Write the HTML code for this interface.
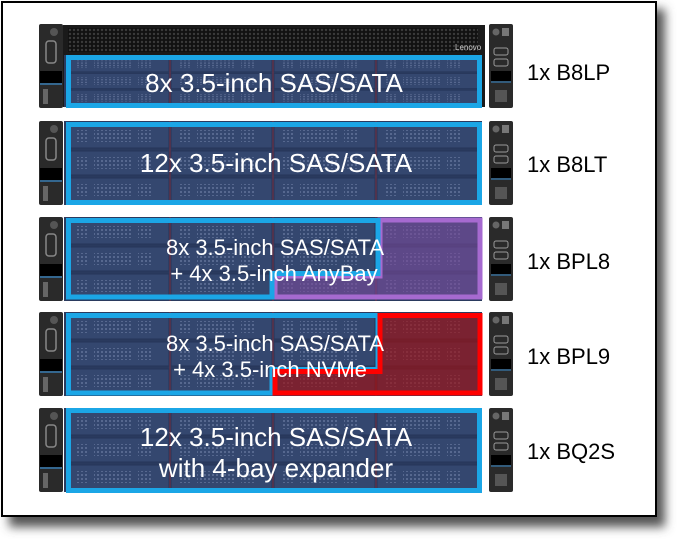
<!DOCTYPE html>
<html><head><meta charset="utf-8"><style>
body{margin:0;background:#fff;}
svg{display:block}
</style></head><body>
<svg width="686" height="547" viewBox="0 0 686 547" xmlns="http://www.w3.org/2000/svg">
<defs>
<filter id="sh" x="-5%" y="-5%" width="115%" height="115%"><feGaussianBlur stdDeviation="5"/></filter>
<pattern id="dots" width="4" height="4" patternUnits="userSpaceOnUse"><circle cx="2" cy="2" r="0.9" fill="#6f80a6"/></pattern>
<pattern id="vent" width="4" height="4" patternUnits="userSpaceOnUse"><rect width="4" height="4" fill="#111"/><circle cx="2" cy="2" r="1.2" fill="#3a3a3a"/></pattern>
<g id="drive">
<rect x="0" y="0" width="101" height="24" fill="#34476f" stroke="#26365a" stroke-width="1"/>
<rect x="8" y="6" width="12" height="12" fill="url(#dots)"/>
<rect x="26" y="6" width="38" height="12" fill="url(#dots)"/>
<rect x="70" y="6" width="14" height="12" fill="url(#dots)"/>
</g>
<g id="lear">
<rect x="0" y="0" width="24" height="84" rx="2" fill="#2a2a2a"/>
<circle cx="15" cy="8" r="4" fill="#555"/>
<rect x="7" y="17" width="10" height="22" rx="3" fill="none" stroke="#888" stroke-width="1.5"/>
<rect x="1" y="47" width="22" height="12" fill="#000"/>
<line x1="1" y1="60" x2="23" y2="60" stroke="#3a8ccc" stroke-width="1.2"/>
<rect x="4" y="65" width="5" height="15" fill="#666"/>
</g>
<g id="rear">
<rect x="0" y="0" width="24" height="84" rx="2" fill="#2a2a2a"/>
<circle cx="7" cy="8" r="3.5" fill="#666"/><rect x="13" y="4" width="7" height="8" fill="#777"/>
<rect x="5" y="24" width="14" height="7" rx="2" fill="none" stroke="#999"/>
<rect x="5" y="35" width="14" height="7" rx="2" fill="none" stroke="#999"/>
<rect x="2" y="47" width="20" height="10" fill="#000"/>
<line x1="2" y1="58" x2="22" y2="58" stroke="#3a8ccc"/>
<rect x="6" y="66" width="12" height="12" fill="#555"/>
</g>
<g id="drives3">
<rect x="0" y="0" width="418" height="84" fill="#2a3a5e"/>
<use href="#drive" x="4" y="3"/><use href="#drive" x="107" y="3"/><use href="#drive" x="210" y="3"/><use href="#drive" x="313" y="3"/>
<use href="#drive" x="4" y="30"/><use href="#drive" x="107" y="30"/><use href="#drive" x="210" y="30"/><use href="#drive" x="313" y="30"/>
<use href="#drive" x="4" y="57"/><use href="#drive" x="107" y="57"/><use href="#drive" x="210" y="57"/><use href="#drive" x="313" y="57"/>
<line x1="106" y1="0" x2="106" y2="84" stroke="#7a3040" stroke-width="1"/>
<line x1="209" y1="0" x2="209" y2="84" stroke="#7a3040" stroke-width="1"/>
<line x1="312" y1="0" x2="312" y2="84" stroke="#7a3040" stroke-width="1"/>
</g>
</defs>
<rect x="9" y="9" width="656" height="518" fill="#555" filter="url(#sh)"/>
<rect x="2" y="2" width="654" height="514" fill="#fff" stroke="#000" stroke-width="2"/>

<!-- Row 1 -->
<use href="#lear" x="39" y="24"/>
<rect x="63" y="25" width="422" height="82" fill="#1a1a1a"/>
<rect x="68" y="28" width="410" height="24" fill="url(#vent)"/>
<text x="455" y="50" font-family="Liberation Sans" font-size="8" fill="#ccc">Lenovo</text>
<g transform="translate(64,55) scale(1,0.62)"><use href="#drives3" y="0"/></g>
<use href="#rear" x="489" y="24"/>
<rect x="68.5" y="57.5" width="411" height="48" fill="none" stroke="#1ba6e6" stroke-width="5"/>

<!-- Row 2 -->
<use href="#lear" x="39" y="121"/>
<use href="#drives3" x="64" y="121"/>
<use href="#rear" x="489" y="121"/>
<rect x="68.5" y="124.5" width="411" height="78" fill="none" stroke="#1ba6e6" stroke-width="5"/>

<!-- Row 3 -->
<use href="#lear" x="39" y="217"/>
<use href="#drives3" x="64" y="217"/>
<rect x="380" y="219" width="100" height="80" fill="#7a4a9a" opacity="0.6"/>
<rect x="275" y="273" width="105" height="26" fill="#7a4a9a" opacity="0.6"/>
<use href="#rear" x="489" y="217"/>
<path d="M380,220 L480,220 L480,297 L275,297 L275,276 L380,276 Z" fill="none" stroke="#a66ad0" stroke-width="5"/>
<path d="M68.5,297 L68.5,220.5 L378,220.5 L378,273.5 L272,273.5 L272,297 Z" fill="none" stroke="#1ba6e6" stroke-width="5"/>

<!-- Row 4 -->
<use href="#lear" x="39" y="312"/>
<use href="#drives3" x="64" y="312"/>
<rect x="380" y="314" width="100" height="80" fill="#a01010" opacity="0.65"/>
<rect x="275" y="368" width="105" height="26" fill="#a01010" opacity="0.65"/>
<use href="#rear" x="489" y="312"/>
<path d="M68.5,393 L68.5,315.5 L378,315.5 L378,369.5 L272,369.5 L272,393 Z" fill="none" stroke="#1ba6e6" stroke-width="5"/>
<path d="M380,315.5 L480,315.5 L480,393 L275,393 L275,371.5 L380,371.5 Z" fill="none" stroke="#ff0000" stroke-width="5"/>

<!-- Row 5 -->
<use href="#lear" x="39" y="408"/>
<use href="#drives3" x="64" y="408"/>
<use href="#rear" x="489" y="408"/>
<rect x="68.5" y="410.5" width="411" height="80" fill="none" stroke="#1ba6e6" stroke-width="5"/>

<g font-family="Liberation Sans, sans-serif" fill="#fff" font-size="26" text-anchor="middle">
<text x="274" y="92">8x 3.5-inch SAS/SATA</text>
<text x="276" y="172">12x 3.5-inch SAS/SATA</text>
<text x="276" y="446">12x 3.5-inch SAS/SATA</text>
<text x="276" y="477">with 4-bay expander</text>
</g>
<g font-family="Liberation Sans, sans-serif" fill="#fff" font-size="22" text-anchor="middle">
<text x="275" y="255">8x 3.5-inch SAS/SATA</text>
<text x="274" y="281">+ 4x 3.5-inch AnyBay</text>
<text x="275" y="351">8x 3.5-inch SAS/SATA</text>
<text x="270" y="377">+ 4x 3.5-inch NVMe</text>
</g>
<g font-family="Liberation Sans, sans-serif" fill="#000" font-size="22">
<text x="527" y="80">1x B8LP</text>
<text x="527" y="172">1x B8LT</text>
<text x="527" y="269">1x BPL8</text>
<text x="527" y="364">1x BPL9</text>
<text x="527" y="459">1x BQ2S</text>
</g>
</svg>
</body></html>
